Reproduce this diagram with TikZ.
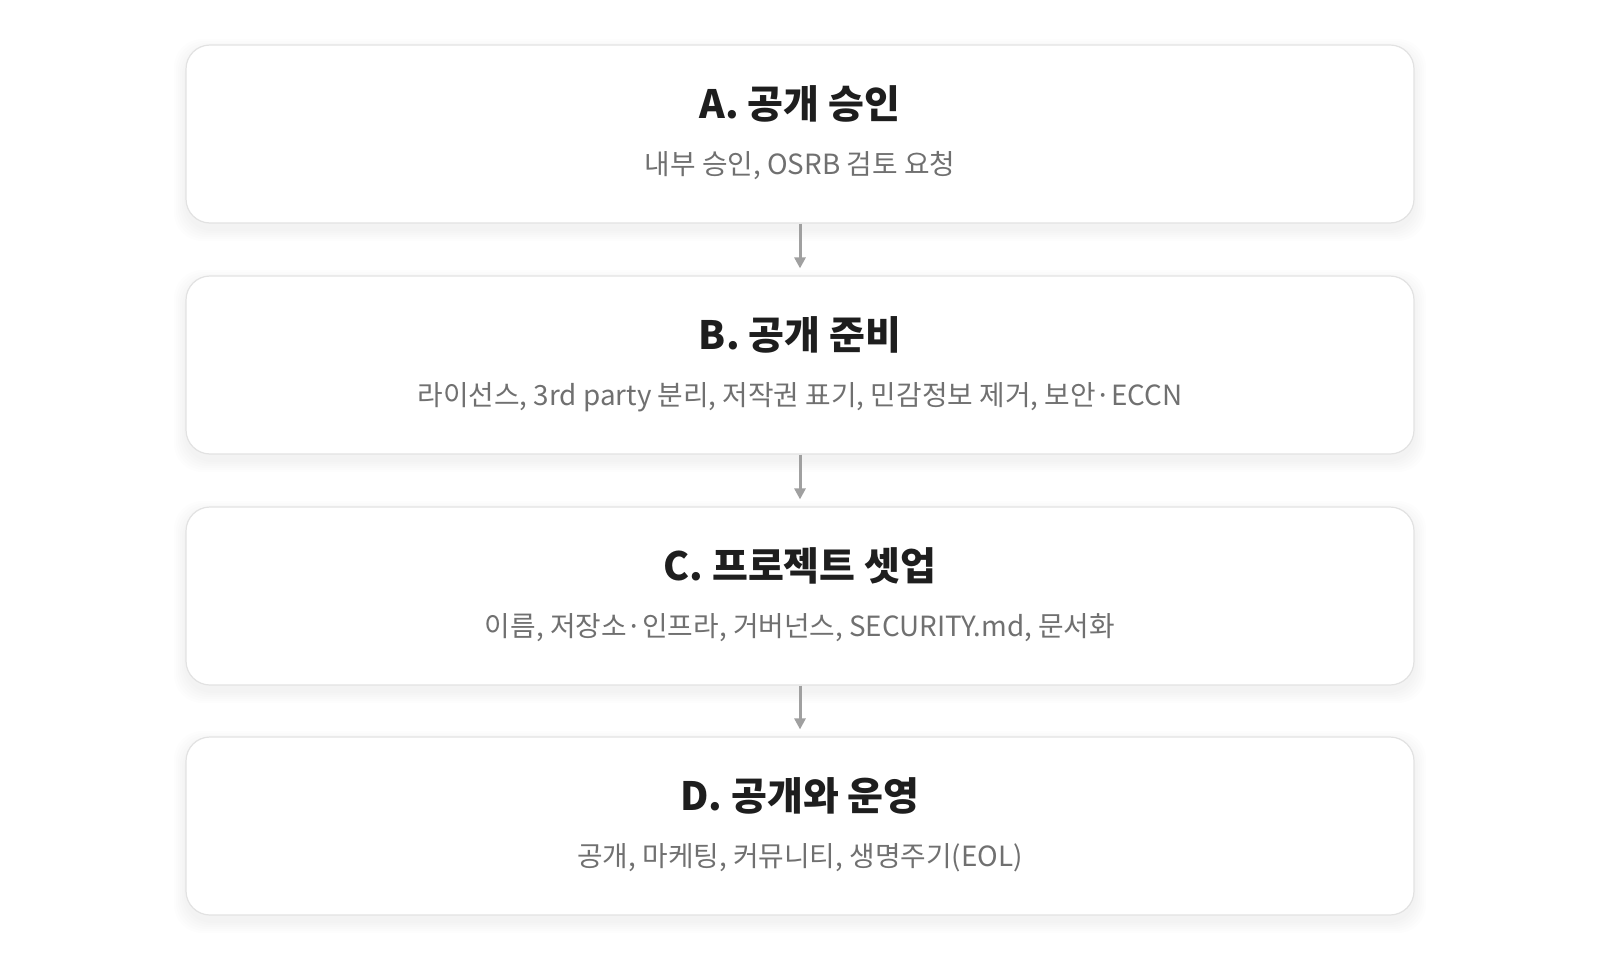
\documentclass[tikz,border=0pt]{standalone}
\usepackage{fontspec}
\setmainfont{Noto Sans CJK KR}
\usetikzlibrary{arrows.meta}
\definecolor{titlec}{HTML}{1E1E1E}
\definecolor{subc}{HTML}{707070}
\definecolor{edgec}{HTML}{E2E2E2}
\definecolor{arrc}{HTML}{A0A0A0}
\tikzset{
  stepbox/.style={draw=edgec, line width=1.2pt, fill=white, rounded corners=24pt,
    minimum width=1228pt, minimum height=178pt, inner sep=0pt},
  shadowbox/.style={fill=black, fill opacity=0.007, rounded corners=28pt, draw=none},
  ttl/.style={font=\fontsize{39}{44}\selectfont\bfseries, text=titlec, anchor=center},
  sub/.style={font=\fontsize{27.8}{32}\selectfont, text=subc, anchor=center},
  conn/.style={draw=arrc, line width=3pt, -{Triangle[width=11pt,length=11pt]}, shorten >=7pt}
}
\begin{document}
\begin{tikzpicture}[x=1pt,y=-1pt]
\useasboundingbox[fill=white] (0,0) rectangle (1600,960);
% shadows
\foreach \cy in {134,365,596,826}{
  \foreach \s in {2,4,6,8,10,12}{
    \fill[shadowbox] (186-\s,\cy-89-\s+6) rectangle (1414+\s,\cy+89+\s+6);
  }
}
\node[stepbox] (A) at (800,134) {};
\node[stepbox] (B) at (800,365) {};
\node[stepbox] (C) at (800,596) {};
\node[stepbox] (D) at (800,826) {};
\node[ttl] (At) at ([yshift=30pt]A.center) {A. 공개 승인};
\node[sub] (As) at ([yshift=-32pt]A.center) {내부 승인, OSRB 검토 요청};
\node[ttl] (Bt) at ([yshift=30pt]B.center) {B. 공개 준비};
\node[sub] (Bs) at ([yshift=-32pt]B.center) {라이선스, 3rd party 분리, 저작권 표기, 민감정보 제거, 보안·ECCN};
\node[ttl] (Ct) at ([yshift=30pt]C.center) {C. 프로젝트 셋업};
\node[sub] (Cs) at ([yshift=-32pt]C.center) {이름, 저장소·인프라, 거버넌스, SECURITY.md, 문서화};
\node[ttl] (Dt) at ([yshift=30pt]D.center) {D. 공개와 운영};
\node[sub] (Ds) at ([yshift=-32pt]D.center) {공개, 마케팅, 커뮤니티, 생명주기(EOL)};
\draw[conn] (A.south) -- (B.north);
\draw[conn] (B.south) -- (C.north);
\draw[conn] (C.south) -- (D.north);
\end{tikzpicture}
\end{document}
